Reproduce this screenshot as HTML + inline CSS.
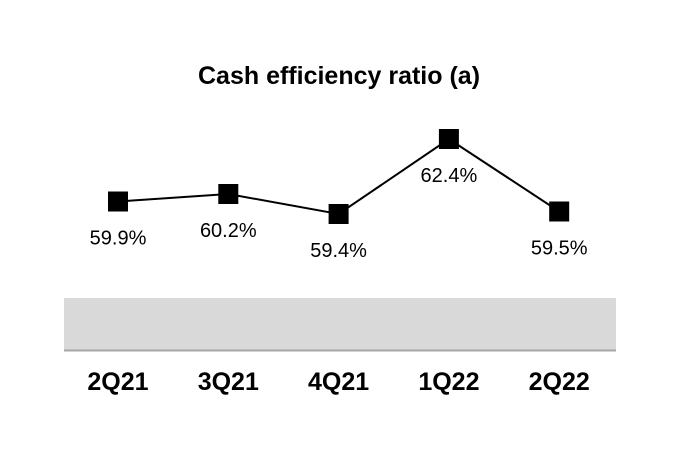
<!DOCTYPE html>
<html><head><meta charset="utf-8"><style>
html,body{margin:0;padding:0;background:#fff;}
svg{display:block;font-family:"Liberation Sans",Arial,sans-serif;}
</style></head><body>
<svg id="chart" width="680" height="460">
<text x="339" y="84" text-anchor="middle" font-size="25" font-weight="bold">Cash efficiency ratio (a)</text>
<rect x="64" y="298" width="552" height="52" fill="#d9d9d9"/>
<line x1="64" y1="350.5" x2="616" y2="350.5" stroke="#a6a6a6" stroke-width="2"/>
<g id="g"></g>
</svg>
<script>
const categories=["2Q21","3Q21","4Q21","1Q22","2Q22"];
const values=[59.9,60.2,59.4,62.4,59.5];
const valueLabels=["59.9%","60.2%","59.4%","62.4%","59.5%"];
const NS="http://www.w3.org/2000/svg";
const g=document.getElementById("g");
function xPos(i){return 118+i*110.3;}
function yPos(v){return 214-(v-59.4)*25;}
const pts=values.map((v,i)=>xPos(i)+","+yPos(v)).join(" ");
const line=document.createElementNS(NS,"polyline");
line.setAttribute("points",pts);line.setAttribute("fill","none");line.setAttribute("stroke","#000");line.setAttribute("stroke-width","2");


g.appendChild(line);
values.forEach((v,i)=>{
 const x=xPos(i),y=yPos(v);
 const r=document.createElementNS(NS,"rect");
 r.setAttribute("x",x-10);r.setAttribute("y",y-10);r.setAttribute("width",20);r.setAttribute("height",20);r.setAttribute("fill","#000");
 
 
 g.appendChild(r);
 const t=document.createElementNS(NS,"text");
 t.setAttribute("x",x);t.setAttribute("y",y+43);t.setAttribute("text-anchor","middle");t.setAttribute("font-size","20");
 t.textContent=valueLabels[i];
 
 
 g.appendChild(t);
 const c=document.createElementNS(NS,"text");
 c.setAttribute("x",x);c.setAttribute("y",390);c.setAttribute("text-anchor","middle");c.setAttribute("font-size","25");c.setAttribute("font-weight","bold");
 c.textContent=categories[i];
 
 
 g.appendChild(c);
});
</script>
</body></html>
